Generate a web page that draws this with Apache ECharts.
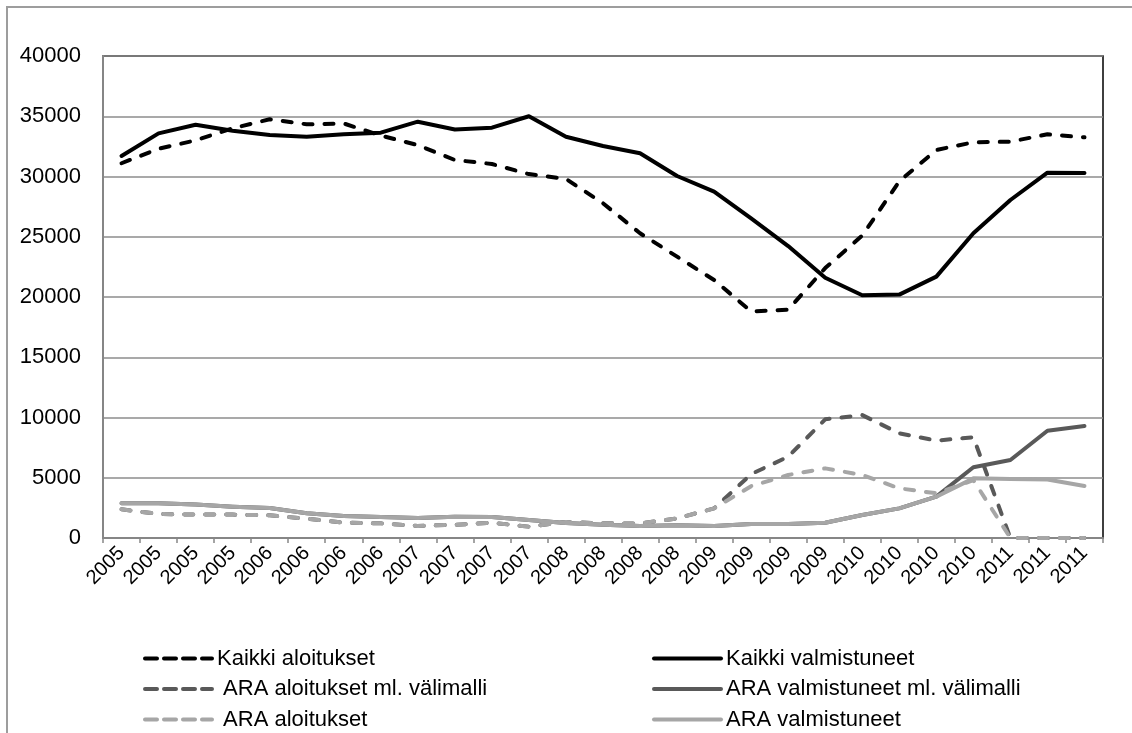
<!DOCTYPE html>
<html>
<head>
<meta charset="utf-8">
<title>Asuntotuotanto 2005–2011</title>
<script src="https://cdn.jsdelivr.net/npm/echarts@6/dist/echarts.min.js"></script>
<style>
  html, body { margin: 0; padding: 0; background: #fff; }
  #chart { width: 1132px; height: 733px; }
</style>
</head>
<body>
<div id="chart"></div>
<script>
// Quarterly periods (x axis labels)
const quarters = ['2005','2005','2005','2005','2006','2006','2006','2006','2007','2007','2007','2007',
  '2008','2008','2008','2008','2009','2009','2009','2009','2010','2010','2010','2010','2011','2011','2011'];

// Y axis range
const yMin = 0;
const yMax = 40000;
const yStep = 5000;

// Series values per quarter
const kaikkiAloitukset = [31100, 32300, 33000, 34000, 34750, 34330, 34400, 33400, 32600, 31370, 31040, 30200,
  29800, 27780, 25290, 23350, 21410, 18800, 18950, 22400, 25100, 29600, 32200, 32840, 32890, 33500, 33250];
const kaikkiValmistuneet = [31700, 33580, 34300, 33800, 33450, 33300, 33500, 33640, 34550, 33900, 34050, 35000,
  33300, 32530, 31930, 30040, 28740, 26530, 24230, 21600, 20150, 20200, 21690, 25290, 28050, 30320, 30300];
const araAloituksetMl = [2380, 2000, 1940, 1940, 1880, 1600, 1270, 1220, 1000, 1100, 1270, 940,
  1330, 1220, 1200, 1630, 2460, 5300, 6750, 9850, 10200, 8690, 8080, 8360, 0, 0, 0];
const araValmistuneetMl = [2880, 2880, 2770, 2600, 2490, 2050, 1830, 1740, 1660, 1770, 1740, 1490,
  1250, 1100, 1000, 1050, 1000, 1160, 1160, 1270, 1910, 2460, 3430, 5870, 6470, 8900, 9300];
const araAloitukset = [2380, 2000, 1940, 1940, 1880, 1600, 1270, 1220, 1000, 1100, 1270, 940,
  1330, 1220, 1200, 1630, 2460, 4300, 5230, 5780, 5230, 4120, 3710, 4800, 0, 0, 0];
const araValmistuneet = [2880, 2880, 2770, 2600, 2490, 2050, 1830, 1740, 1660, 1770, 1740, 1490,
  1250, 1100, 1000, 1050, 1000, 1160, 1160, 1270, 1910, 2460, 3430, 4950, 4900, 4860, 4320];

const BLACK = '#000000';
const DARK = '#595959';
const LIGHT = '#a6a6a6';
const DASH = [9, 12];
const FONT = '"Liberation Sans", Arial, sans-serif';

function line(name, data, color, dashed) {
  return {
    name: name,
    type: 'line',
    data: data,
    symbol: 'none',
    smooth: false,
    silent: true,
    lineStyle: {
      color: color,
      width: 4,
      type: dashed ? DASH : 'solid',
      cap: 'round',
      join: 'round'
    },
    itemStyle: { color: color }
  };
}

const series = [
  line('Kaikki aloitukset', kaikkiAloitukset, BLACK, true),
  line('Kaikki valmistuneet', kaikkiValmistuneet, BLACK, false),
  line('ARA aloitukset ml. välimalli', araAloituksetMl, DARK, true),
  line('ARA valmistuneet ml. välimalli', araValmistuneetMl, DARK, false),
  line('ARA aloitukset', araAloitukset, LIGHT, true),
  line('ARA valmistuneet', araValmistuneet, LIGHT, false)
];

// Legend entries: line sample only, no point marker
function legendItem(name, dashed) {
  return {
    name: name,
    itemStyle: { opacity: 0, borderWidth: 0 },
    lineStyle: { type: dashed ? [12, 7] : 'solid', cap: 'round', width: 4 }
  };
}

const legendCommon = {
  orient: 'vertical',
  padding: 0,
  height: 100,
  itemWidth: 67,
  itemHeight: 14,
  itemGap: 7.5,
  selectedMode: false,
  textStyle: { fontFamily: FONT, fontSize: 22, color: '#000', lineHeight: 23 }
};

const chart = echarts.init(document.getElementById('chart'), null, { renderer: 'canvas' });
chart.setOption({
  animation: false,
  backgroundColor: '#ffffff',
  graphic: [{
    type: 'rect',
    shape: { x: 7, y: 7, width: 1300, height: 1000 },
    style: { fill: 'none', stroke: '#9d9d9d', lineWidth: 2 },
    silent: true,
    z: -10
  }],
  grid: {
    left: 103, right: 29, top: 56, bottom: 195,
    show: true,
    borderColor: '#000',
    borderWidth: 1.5,
    backgroundColor: 'transparent'
  },
  legend: [
    Object.assign({}, legendCommon, {
      left: 143, top: 647,
      formatter: function (n) { return n.indexOf('ARA') === 0 ? ' ' + n : n; },
      data: [
        legendItem('Kaikki aloitukset', true),
        legendItem('ARA aloitukset ml. välimalli', true),
        legendItem('ARA aloitukset', true)
      ]
    }),
    Object.assign({}, legendCommon, {
      left: 652, top: 647,
      data: [
        legendItem('Kaikki valmistuneet', false),
        legendItem('ARA valmistuneet ml. välimalli', false),
        legendItem('ARA valmistuneet', false)
      ]
    })
  ],
  xAxis: {
    type: 'category',
    data: quarters,
    boundaryGap: true,
    axisLine: { show: true, lineStyle: { color: '#868686', width: 2 } },
    axisTick: { show: true, length: 5, inside: false, lineStyle: { color: '#868686', width: 1.5 } },
    axisLabel: {
      interval: 0,
      rotate: 45,
      margin: 12,
      color: '#000',
      fontFamily: FONT,
      fontSize: 20
    },
    splitLine: { show: false }
  },
  yAxis: {
    type: 'value',
    min: yMin,
    max: yMax,
    interval: yStep,
    axisLine: { show: true, lineStyle: { color: '#868686', width: 2 } },
    axisTick: { show: false },
    axisLabel: {
      color: '#000',
      fontFamily: FONT,
      fontSize: 22,
      margin: 22,
      formatter: function (v) { return String(v); }
    },
    splitLine: { show: true, lineStyle: { color: '#8c8c8c', width: 1.5 } }
  },
  series: series
});
</script>
</body>
</html>
